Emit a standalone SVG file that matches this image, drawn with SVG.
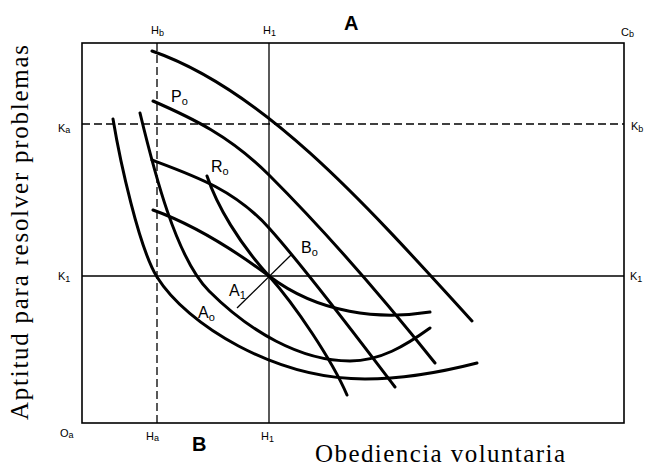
<svg xmlns="http://www.w3.org/2000/svg" width="648" height="469" viewBox="0 0 648 469">
<style>
.fr{fill:none;stroke:#000;stroke-width:1.6}
.ln{fill:none;stroke:#000;stroke-width:1.3}
.dash{fill:none;stroke:#000;stroke-width:1.3;stroke-dasharray:8 4}
.cv{fill:none;stroke:#000;stroke-width:3;stroke-linecap:round}
.tk{font-family:"Liberation Sans",Arial,sans-serif;font-size:11px;fill:#000}
.sb{font-size:9px}
.lb{font-family:"Liberation Sans",Arial,sans-serif;font-size:16px;fill:#000}
.ls{font-size:11px}
.big{font-family:"Liberation Sans",Arial,sans-serif;font-size:20px;font-weight:bold;fill:#000}
.ax{font-family:"Liberation Serif","Times New Roman",serif;font-size:25px;fill:#000}
</style>
<rect width="648" height="469" fill="#fff"/>
<g id="frame">
<rect class="fr" x="82" y="43" width="542" height="380"/>
<line class="ln" x1="269" y1="43" x2="269" y2="423"/>
<line class="ln" x1="82" y1="276" x2="624" y2="276"/>
<line class="dash" x1="157" y1="43" x2="157" y2="423"/>
<line class="dash" x1="82" y1="124" x2="624" y2="124"/>
<line class="ln" x1="237" y1="308" x2="292" y2="254"/>
</g>
<g id="curves">
<path id="curve-top" class="cv" d="M152,51 C262,89 362,200 472,321"/>
<path id="curve-Po" class="cv" d="M153,101 C192,118 230,136 269,175 C324,230 380,294 435,363"/>
<path id="curve-c" class="cv" d="M152,160 C195,176 235,190 269,228 C305,268 353,332 395,387"/>
<path id="curve-d" class="cv" d="M153,210 C192,224 230,247 269,276 C319,314 380,320 430,312"/>
<path id="curve-Ro" class="cv" d="M207,176 C217,206 239,243 269,276 C295,305 332,360 347,395"/>
<path id="curve-b" class="cv" d="M140,113 C154,171 176,258 209,291 C249,331 300,361 350,361 C380,361 405,346 430,328"/>
<path id="curve-Ao" class="cv" d="M113,119 C120,161 139,248 157,277 C187,325 275,379 365,379 C405,379 442,372 477,363"/>
</g>
<g id="labels">
<text class="tk" x="151" y="34">H<tspan class="sb" dy="2">b</tspan></text>
<text class="tk" x="263" y="34">H<tspan class="sb" dy="2">1</tspan></text>
<text class="big" x="344" y="30">A</text>
<text class="tk" x="621" y="36">C<tspan class="sb" dy="1">b</tspan></text>
<text class="tk" x="58" y="132">K<tspan class="sb" dy="1">a</tspan></text>
<text class="tk" x="631" y="130">K<tspan class="sb" dy="2">b</tspan></text>
<text class="tk" x="58" y="280">K<tspan class="sb" dy="2">1</tspan></text>
<text class="tk" x="630" y="280">K<tspan class="sb" dy="2">1</tspan></text>
<text class="tk" x="60" y="437">O<tspan class="sb" dy="1">a</tspan></text>
<text class="tk" x="146" y="440">H<tspan class="sb" dy="1">a</tspan></text>
<text class="big" x="192" y="451">B</text>
<text class="tk" x="261" y="440">H<tspan class="sb" dy="2">1</tspan></text>
<text class="lb" x="171" y="102">P<tspan class="ls" dy="3">o</tspan></text>
<text class="lb" x="211" y="172">R<tspan class="ls" dy="3">o</tspan></text>
<text class="lb" x="301" y="253">B<tspan class="ls" dy="3">o</tspan></text>
<text class="lb" x="229" y="296">A<tspan class="ls" dy="3">1</tspan></text>
<text class="lb" x="198" y="318">A<tspan class="ls" dy="3">o</tspan></text>
<text class="ax" x="315" y="462" textLength="250" lengthAdjust="spacing">Obediencia voluntaria</text>
<text class="ax" transform="translate(28,420) rotate(-90)" textLength="375" lengthAdjust="spacing">Aptitud para resolver problemas</text>
</g>
</svg>
